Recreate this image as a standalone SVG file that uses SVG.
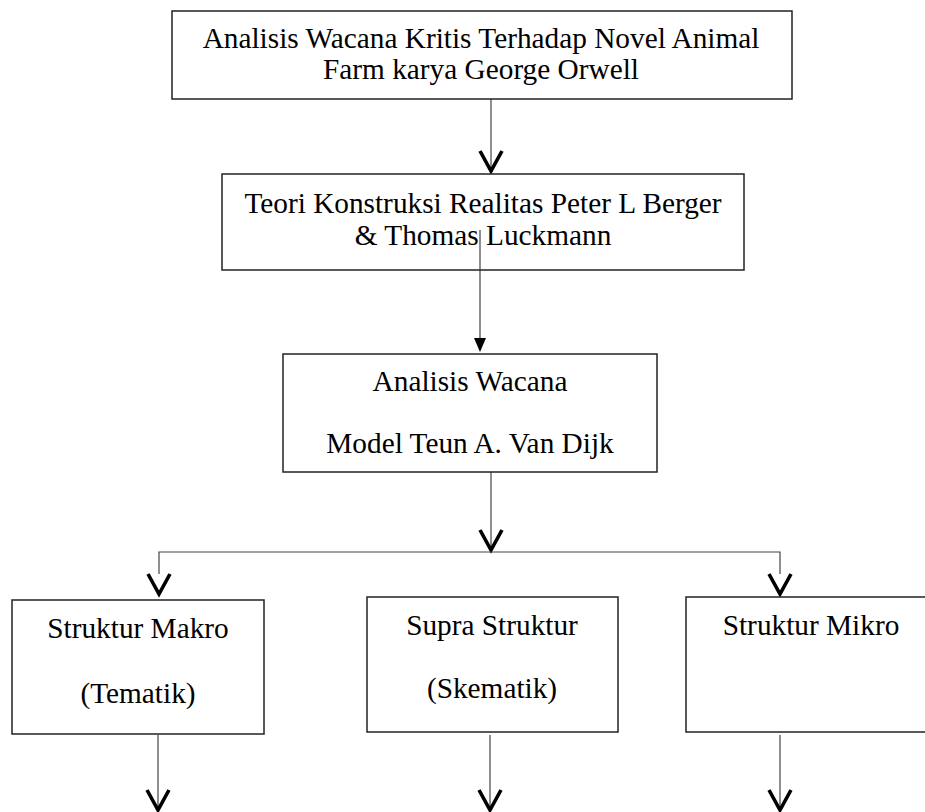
<svg xmlns="http://www.w3.org/2000/svg" width="925" height="812" viewBox="0 0 925 812">
<style>
.box{fill:#fff;stroke:#222;stroke-width:1.5}
.t{font-family:"Liberation Serif","Times New Roman",serif;fill:#000;text-anchor:middle;font-size:29.3px}
.ln{stroke:#444;stroke-width:1.2;fill:none}
.v{stroke:#000;stroke-width:3.6;fill:none;stroke-linejoin:miter}
</style>
<rect width="925" height="812" fill="#fff"/>
<g id="connectors">
<line class="ln" x1="491" y1="99" x2="491" y2="170"/>
<polyline class="v" points="480,151 491,171 502,151"/>
<line class="ln" x1="480" y1="270" x2="480" y2="340"/>
<polygon points="474,338 486,338 480,352" fill="#000"/>
<line class="ln" x1="491" y1="472" x2="491" y2="550"/>
<polyline class="v" points="480,530 491,550 502,530"/>
<polyline class="ln" points="159,574 159,552 780,552 780,574"/>
<polyline class="v" points="148,574 159,594 170,574"/>
<polyline class="v" points="769,574 780,594 791,574"/>
<line class="ln" x1="158" y1="735" x2="158" y2="808"/>
<polyline class="v" points="147,790 158,810 169,790"/>
<line class="ln" x1="490" y1="735" x2="490" y2="808"/>
<polyline class="v" points="479,790 490,810 501,790"/>
<line class="ln" x1="780" y1="735" x2="780" y2="808"/>
<polyline class="v" points="769,790 780,810 791,790"/>
</g>
<g id="n1">
<rect class="box" x="172" y="11" width="620" height="88"/>
<text class="t" x="481" y="48">Analisis Wacana Kritis Terhadap Novel Animal</text>
<text class="t" x="481" y="79">Farm karya George Orwell</text>
</g>
<g id="n2">
<rect class="box" x="222" y="174" width="522" height="96"/>
<text class="t" x="483" y="213">Teori Konstruksi Realitas Peter L Berger</text>
<text class="t" x="483" y="245">&amp; Thomas Luckmann</text>
<line class="ln" x1="480" y1="230" x2="480" y2="270"/>
</g>
<g id="n3">
<rect class="box" x="283" y="354" width="374" height="118"/>
<text class="t" x="470" y="391">Analisis Wacana</text>
<text class="t" x="470" y="453">Model Teun A. Van Dijk</text>
</g>
<g id="n4">
<rect class="box" x="12" y="600" width="252" height="134"/>
<text class="t" x="138" y="638">Struktur Makro</text>
<text class="t" x="138" y="703">(Tematik)</text>
</g>
<g id="n5">
<rect class="box" x="367" y="597" width="251" height="135"/>
<text class="t" x="492" y="635">Supra Struktur</text>
<text class="t" x="492" y="698">(Skematik)</text>
</g>
<g id="n6">
<rect class="box" x="686" y="597" width="260" height="135"/>
<text class="t" x="811" y="635">Struktur Mikro</text>
</g>
</svg>
